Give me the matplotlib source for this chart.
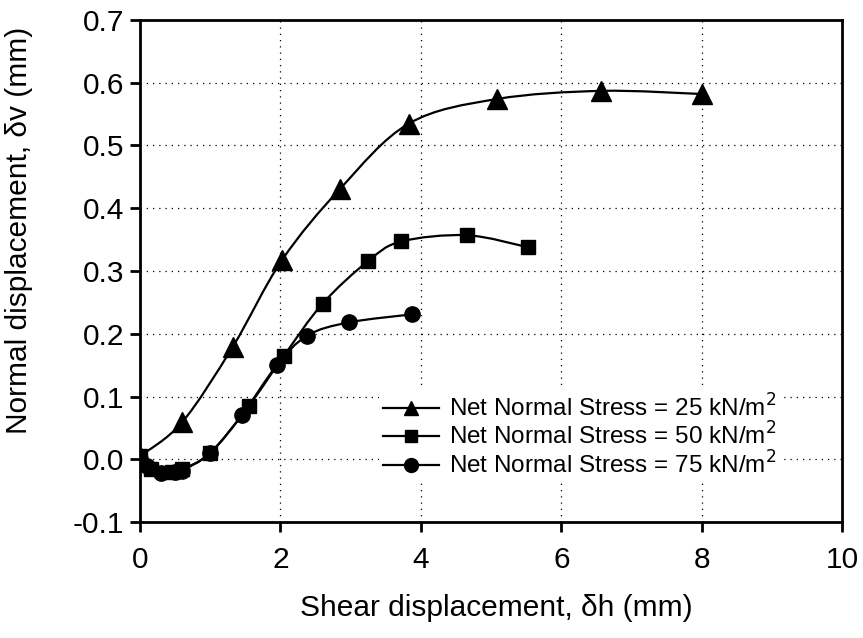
import numpy as np
import matplotlib
matplotlib.use("Agg")
import matplotlib.pyplot as plt
from matplotlib.path import Path
from matplotlib.patches import PathPatch

plt.rcParams['font.family'] = ['Liberation Sans', 'DejaVu Sans']

# data
x_25 = [0.0, 0.6, 1.32, 2.02, 2.85, 3.83, 5.08, 6.57, 8.0]
y_25 = [0.005, 0.059, 0.179, 0.317, 0.431, 0.535, 0.574, 0.587, 0.582]

x_50 = [0.0, 0.15, 0.45, 0.6, 1.0, 1.55, 2.05, 2.6, 3.25, 3.72, 4.65, 5.52]
y_50 = [0.005, -0.015, -0.02, -0.016, 0.01, 0.085, 0.165, 0.248, 0.316, 0.347, 0.357, 0.338]

x_75 = [0.0, 0.1, 0.3, 0.5, 0.6, 1.0, 1.45, 1.95, 2.38, 2.97, 3.88]
y_75 = [0.0, -0.01, -0.022, -0.02, -0.018, 0.01, 0.07, 0.15, 0.197, 0.218, 0.231]

labels = ["Net Normal Stress = 25 kN/m$^2$",
          "Net Normal Stress = 50 kN/m$^2$",
          "Net Normal Stress = 75 kN/m$^2$"]
markers = ['^', 's', 'o']
msizes = [14, 10, 11]
leg_msizes = [10, 9, 10]


def smooth_path(xs, ys):
    # Excel-like smoothed line: Catmull-Rom segments as cubic Bezier curves
    p = np.column_stack([xs, ys])
    n = len(p)
    verts = [p[0]]
    codes = [Path.MOVETO]
    for i in range(n - 1):
        p0 = p[i - 1] if i > 0 else p[i]
        p3 = p[i + 2] if i + 2 < n else p[i + 1]
        c1 = p[i] + (p[i + 1] - p0) / 6.0
        c2 = p[i + 1] - (p3 - p[i]) / 6.0
        verts += [c1, c2, p[i + 1]]
        codes += [Path.CURVE4] * 3
    return Path(verts, codes)


fig = plt.figure(figsize=(8.63, 6.38), dpi=100)
ax = fig.add_axes([0.1622, 0.1818, 0.8138, 0.7869])

for xs, ys, m, ms, lms, lab in zip([x_25, x_50, x_75], [y_25, y_50, y_75],
                                   markers, msizes, leg_msizes, labels):
    ax.add_patch(PathPatch(smooth_path(xs, ys), fill=False, edgecolor='black',
                           lw=1.6, zorder=3))
    ax.plot(xs, ys, linestyle='none', marker=m, markersize=ms, color='black', zorder=4)
    # legend proxy
    ax.plot([], [], '-', color='black', lw=1.6, marker=m, markersize=lms, label=lab)

ax.set_xlim(0, 10)
ax.set_ylim(-0.1, 0.7)
ax.set_xticks(np.arange(0, 11, 2))
ax.set_yticks(np.arange(-0.1, 0.71, 0.1))
ax.set_yticklabels([f"{v:.1f}" for v in np.arange(-0.1, 0.71, 0.1)])

ax.grid(True, color='black', linestyle=(0, (1, 4)), linewidth=0.9)
ax.set_axisbelow(True)

for s in ax.spines.values():
    s.set_linewidth(2)
ax.tick_params(direction='out', length=7, width=2, labelsize=21.5,
               top=False, right=False)
ax.tick_params(axis='x', pad=10)
ax.tick_params(axis='y', pad=4.5)

ax.set_xlabel("Shear displacement, \u03b4h (mm)", fontsize=21.5)
ax.set_ylabel("Normal displacement, \u03b4v (mm)", fontsize=21.5)
ax.xaxis.set_label_coords(0.507, -0.143)
ax.yaxis.set_label_coords(-0.152, 0.58)

leg = ax.legend(loc='upper left', bbox_to_anchor=(0.341, 0.262), fontsize=17.5,
                frameon=True, framealpha=1, edgecolor='none', fancybox=False,
                handlelength=2.3, labelspacing=0.05, borderpad=0.15,
                handletextpad=0.4, borderaxespad=0)

fig.savefig("out.png", dpi=100)
